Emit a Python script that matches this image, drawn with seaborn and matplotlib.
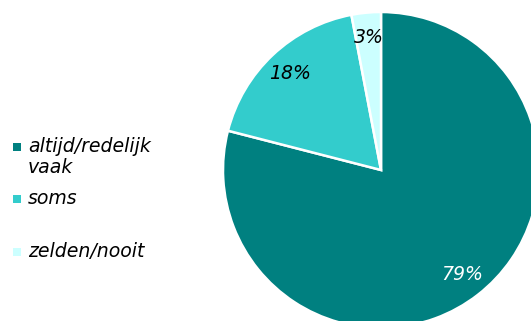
import matplotlib
matplotlib.use("Agg")
import matplotlib.pyplot as plt
from matplotlib.patches import Rectangle
import seaborn as sns

categories = ["altijd/redelijk\nvaak", "soms", "zelden/nooit"]
shares = [79, 18, 3]
colors = ["#008080", "#33CCCC", "#CCFFFF"]
label_colors = ["white", "black", "black"]

sns.set_style("white")
plt.rcParams["font.family"] = ["DejaVu Sans"]
plt.rcParams["text.color"] = "black"
palette = sns.color_palette(colors)

W, H = 531, 321
FS = 13.6
fig = plt.figure(figsize=(W / 100, H / 100), dpi=100)

# pie axes: centre (381, 170) px from top-left, radius 158 px
cx, cy, r = 381, H - 170, 158
ax = fig.add_axes([(cx - r) / W, (cy - r) / H, 2 * r / W, 2 * r / H])
wedges, texts, autotexts = ax.pie(
    shares, colors=palette, startangle=90, counterclock=False,
    autopct=lambda p: f"{p:.0f}%", pctdistance=0.84, radius=1,
    wedgeprops=dict(edgecolor="white", linewidth=1.8),
    textprops=dict(fontsize=FS, fontstyle="italic", color="black"),
)
for t, c in zip(autotexts, label_colors):
    t.set_color(c)
ax.set_xlim(-1, 1)
ax.set_ylim(-1, 1)
ax.axis("off")

# legend on the left: square swatch beside the first line of each label
legend_y = [147, 199, 252]
for lab, col, y in zip(categories, palette, legend_y):
    fig.add_artist(Rectangle((13 / W, (H - y - 4) / H), 8 / W, 8 / H,
                             transform=fig.transFigure, color=col, lw=0))
    fig.text(28 / W, (H - y + 10) / H, lab, fontsize=FS, fontstyle="italic",
             va="top", ha="left", linespacing=1.15, color="black")

fig.savefig("out.png", dpi=100)
